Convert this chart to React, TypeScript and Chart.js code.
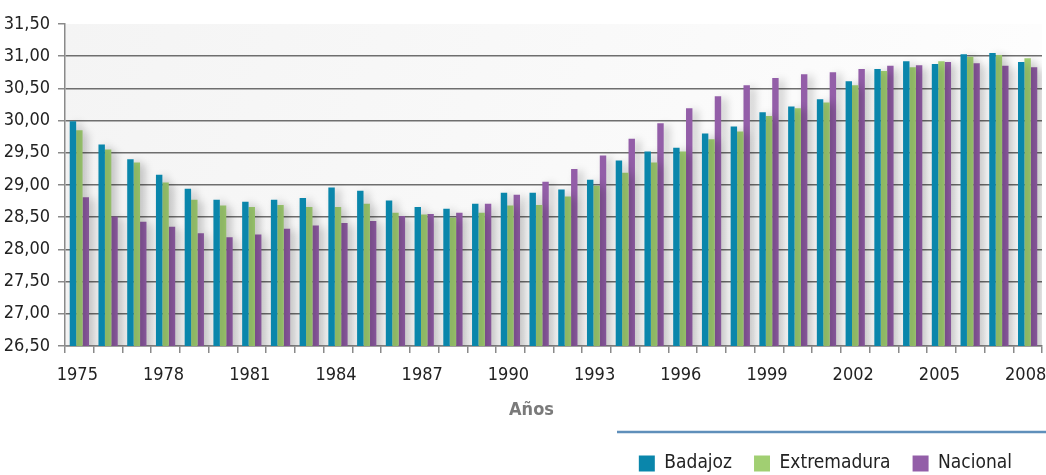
import React, { useEffect, useRef } from "react";
import { Chart, registerables } from "chart.js";

Chart.register(...registerables);

const years = [
  "1975", "1976", "1977", "1978", "1979", "1980", "1981", "1982", "1983", "1984",
  "1985", "1986", "1987", "1988", "1989", "1990", "1991", "1992", "1993", "1994",
  "1995", "1996", "1997", "1998", "1999", "2000", "2001", "2002", "2003", "2004",
  "2005", "2006", "2007", "2008",
];

const badajoz = [
  29.99, 29.63, 29.40, 29.16, 28.94, 28.77, 28.74, 28.77, 28.80, 28.96,
  28.91, 28.76, 28.66, 28.63, 28.71, 28.88, 28.88, 28.93, 29.08, 29.38,
  29.52, 29.58, 29.80, 29.91, 30.13, 30.22, 30.33, 30.61, 30.80, 30.92,
  30.88, 31.03, 31.05, 30.91,
];

const extremadura = [
  29.85, 29.55, 29.35, 29.04, 28.77, 28.68, 28.66, 28.69, 28.66, 28.66,
  28.71, 28.57, 28.54, 28.49, 28.57, 28.68, 28.69, 28.82, 28.99, 29.19,
  29.35, 29.52, 29.71, 29.83, 30.07, 30.19, 30.28, 30.55, 30.77, 30.83,
  30.92, 30.99, 31.02, 30.97,
];

const nacional = [
  28.81, 28.51, 28.43, 28.35, 28.25, 28.19, 28.23, 28.32, 28.37, 28.41,
  28.44, 28.52, 28.55, 28.57, 28.71, 28.85, 29.05, 29.25, 29.46, 29.72,
  29.96, 30.19, 30.38, 30.55, 30.66, 30.72, 30.75, 30.80, 30.85, 30.86,
  30.91, 30.89, 30.85, 30.83,
];

const seriesNames = ["Badajoz", "Extremadura", "Nacional"];
const seriesColors = ["#0a86ab", "#a1cf72", "#935ea8"];
const xTitle = "Años";
const yMin = 26.5;
const yMax = 31.5;
const yStep = 0.5;

const FONT = "'DejaVu Sans Condensed', 'DejaVu Sans', sans-serif";

const decorPlugin = {
  id: "decor",
  afterLayout(chart: any) {
    const lg = chart.legend;
    if (lg) {
      lg.left -= 8;
      lg.right -= 8;
    }
  },
  beforeDraw(chart: any) {
    const { ctx, chartArea } = chart;
    ctx.save();
    const g = ctx.createLinearGradient(chartArea.left, chartArea.top, chartArea.right, chartArea.bottom);
    g.addColorStop(0, "#f4f4f4");
    g.addColorStop(1, "#fefefe");
    ctx.fillStyle = g;
    ctx.fillRect(chartArea.left, chartArea.top, chartArea.right - chartArea.left, chartArea.bottom - chartArea.top);
    ctx.restore();
  },
  beforeDatasetsDraw(chart: any) {
    const { ctx } = chart;
    ctx.save();
    ctx.shadowColor = "rgba(0,0,0,0.22)";
    ctx.shadowBlur = 8;
    ctx.shadowOffsetX = 5;
    ctx.shadowOffsetY = 2;
  },
  afterDatasetsDraw(chart: any) {
    chart.ctx.restore();
  },
  afterDraw(chart: any) {
    const { ctx, chartArea } = chart;
    ctx.save();
    ctx.font = `bold 18px ${FONT}`;
    ctx.fillStyle = "#7a7a7a";
    ctx.textAlign = "center";
    ctx.textBaseline = "middle";
    ctx.fillText(xTitle, (chartArea.left + chartArea.right) / 2 - 22, 410);
    ctx.strokeStyle = "#5f8fba";
    ctx.lineWidth = 2.5;
    ctx.beginPath();
    ctx.moveTo(617, 432);
    ctx.lineTo(chart.width, 432);
    ctx.stroke();
    ctx.restore();
  },
};

export default function App() {
  const ref = useRef<HTMLCanvasElement | null>(null);

  useEffect(() => {
    document.body.style.margin = "0";
    if (!ref.current) return;
    const data = [badajoz, extremadura, nacional];
    const chart = new Chart(ref.current, {
      type: "bar",
      data: {
        labels: years,
        datasets: seriesNames.map((name, i) => ({
          label: name,
          data: data[i],
          backgroundColor: seriesColors[i],
          borderWidth: 0,
          categoryPercentage: 0.67,
          barPercentage: 1.0,
        })),
      },
      options: {
        animation: false,
        responsive: false,
        maintainAspectRatio: false,
        layout: { padding: { top: 24, right: 4, left: 0, bottom: -8 } },
        plugins: {
          legend: {
            position: "bottom",
            align: "end",
            labels: {
              boxWidth: 16,
              boxHeight: 16,
              padding: 22,
              color: "#222",
              font: { family: FONT, size: 19 },
            },
          },
          tooltip: { enabled: false },
        },
        scales: {
          x: {
            grid: {
              display: true,
              drawOnChartArea: false,
              drawTicks: true,
              tickLength: 7,
              color: "#8a8a8a",
              lineWidth: 1.5,
              offset: true,
            },
            border: { display: true, color: "#8a8a8a", width: 1.5 },
            ticks: {
              autoSkip: false,
              maxRotation: 0,
              padding: 12,
              labelOffset: -2,
              color: "#222",
              font: { family: FONT, size: 18 },
              callback: (_v: any, idx: number) => (idx % 3 === 0 ? years[idx] : ""),
            },
            afterFit: (scale: any) => {
              scale.height = 86;
              scale.paddingRight = 0;
              scale.paddingLeft = 0;
            },
          },
          y: {
            min: yMin,
            max: yMax,
            ticks: {
              stepSize: yStep,
              padding: 8,
              color: "#222",
              font: { family: FONT, size: 18 },
              callback: (v: any) => Number(v).toFixed(2).replace(".", ","),
            },
            grid: {
              color: (c: any) => (c.tick && c.tick.value >= yMax - 1e-6 ? "rgba(0,0,0,0)" : "#6e6e6e"),
              tickColor: "#8a8a8a",
              lineWidth: 1.5,
              tickLength: 7,
            },
            border: { display: true, color: "#8a8a8a", width: 1.5 },
            afterFit: (scale: any) => {
              scale.width = 65;
            },
          },
        },
      },
      plugins: [decorPlugin],
    });
    return () => chart.destroy();
  }, []);

  return (
    <div style={{ width: 1046, height: 475 }}>
      <canvas ref={ref} width={1046} height={475} style={{ display: "block" }} />
    </div>
  );
}
